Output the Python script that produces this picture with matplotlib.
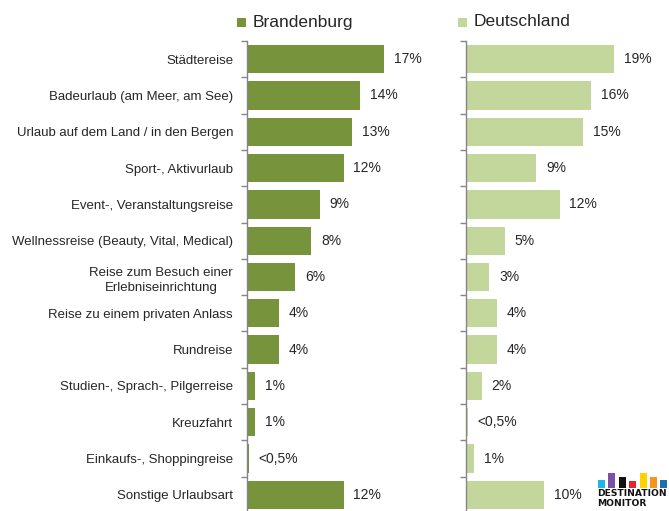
import matplotlib
matplotlib.use('Agg')
import matplotlib.pyplot as plt
from matplotlib.patches import Rectangle
import numpy as np

plt.rcParams['font.family'] = ['Liberation Sans', 'DejaVu Sans']

categories = ['Städtereise', 'Badeurlaub (am Meer, am See)', 'Urlaub auf dem Land / in den Bergen',
              'Sport-, Aktivurlaub', 'Event-, Veranstaltungsreise', 'Wellnessreise (Beauty, Vital, Medical)',
              'Reise zum Besuch einer\nErlebniseinrichtung', 'Reise zu einem privaten Anlass', 'Rundreise',
              'Studien-, Sprach-, Pilgerreise', 'Kreuzfahrt', 'Einkaufs-, Shoppingreise', 'Sonstige Urlaubsart']
brandenburg = [17, 14, 13, 12, 9, 8, 6, 4, 4, 1, 1, 0.25, 12]
brandenburg_labels = ['17%', '14%', '13%', '12%', '9%', '8%', '6%', '4%', '4%', '1%', '1%', '<0,5%', '12%']
deutschland = [19, 16, 15, 9, 12, 5, 3, 4, 4, 2, 0.25, 1, 10]
deutschland_labels = ['19%', '16%', '15%', '9%', '12%', '5%', '3%', '4%', '4%', '2%', '<0,5%', '1%', '10%']
series_names = ['Brandenburg', 'Deutschland']
series_colors = ['#77933C', '#C3D69B']

logo_colors = ['#1FB5E6', '#7B52A3', '#111111', '#E0262C', '#FFD200', '#F7941D', '#1E6FB0']
logo_heights = [0.55, 1.0, 0.75, 0.5, 1.0, 0.75, 0.55]

W, H = 669, 511
fig = plt.figure(figsize=(W / 100, H / 100), dpi=100)

def px(x0, y0, w, h):
    return [x0 / W, 1 - (y0 + h) / H, w / W, h / H]

axes_specs = [
    (px(247, 41, 208, 472), 208 / 8.06, brandenburg, brandenburg_labels, True),
    (px(466, 41, 203, 472), 203 / 7.8, deutschland, deutschland_labels, False),
]

n = len(categories)
ypos = np.arange(n)
for i, (rect, xmax, vals, labels, show_cats) in enumerate(axes_specs):
    ax = fig.add_axes(rect)
    ax.barh(ypos, vals, height=0.78, color=series_colors[i])
    ax.set_xlim(0, xmax)
    ax.set_ylim(n - 0.5, -0.5)
    for s in ['top', 'right', 'bottom']:
        ax.spines[s].set_visible(False)
    ax.spines['left'].set_color('#868686')
    ax.spines['left'].set_linewidth(1.0)
    ax.set_xticks([])
    ax.set_yticks(ypos)
    ax.set_yticks(np.arange(n + 1) - 0.5, minor=True)
    ax.tick_params(axis='y', which='major', length=0, pad=10)
    ax.tick_params(axis='y', which='minor', length=4, color='#868686', width=1.0)
    if show_cats:
        ticklabels = ax.set_yticklabels(categories, fontsize=9.5, color='#262626', linespacing=1.35)
        for t in ticklabels:
            t.set_multialignment('center')
    else:
        ax.set_yticklabels([])
    for y, v, lab in zip(ypos, vals, labels):
        ax.annotate(lab, (v, y), xytext=(7, 0), textcoords='offset points',
                    va='center', ha='left', fontsize=10, color='#262626')

# legend
for (lx, name, c) in [(237, series_names[0], series_colors[0]), (458, series_names[1], series_colors[1])]:
    fig.patches.append(Rectangle((lx / W, 1 - 27 / H), 9 / W, 9 / H, transform=fig.transFigure,
                                 facecolor=c, edgecolor='none'))
    fig.text((lx + 16) / W, 1 - 22 / H, name, fontsize=12.5, color='#262626', va='center', ha='left')

# logo
lax = fig.add_axes(px(598, 473, 72, 15))
lax.bar(np.arange(len(logo_colors)) * 10.4, logo_heights, width=7, color=logo_colors, align='edge')
lax.set_xlim(0, 72)
lax.set_ylim(0, 1)
lax.axis('off')
fig.text(597 / W, 1 - 494 / H, 'DESTINATION', fontsize=6.6, fontweight='bold', color='#111111',
         va='center', family='DejaVu Sans')
fig.text(597 / W, 1 - 503.5 / H, 'MONITOR', fontsize=6.6, fontweight='bold', color='#111111',
         va='center', family='DejaVu Sans')

fig.savefig('out.png', dpi=100)
